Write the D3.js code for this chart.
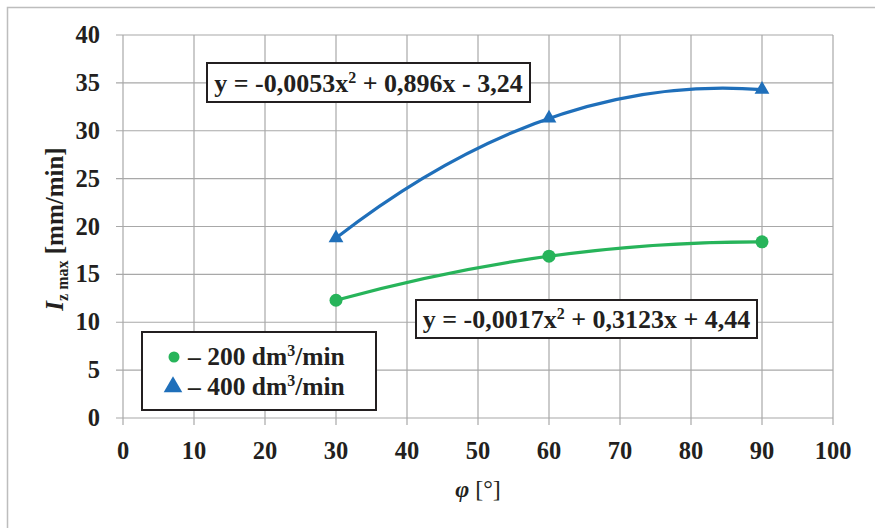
<!DOCTYPE html>
<html>
<head>
<meta charset="utf-8">
<script src="https://cdn.jsdelivr.net/npm/d3@7"></script>
<style>
  body { margin: 0; background: #fff; }
  svg text { font-family: 'Liberation Serif', serif; }
</style>
</head>
<body>
<div id="chart"></div>
<script>
// data
var angles = [30, 60, 90];
var flow200 = [12.3, 16.9, 18.4];
var flow400 = [18.8, 31.3, 34.3];
var eq200 = "y = -0,0017x|2| + 0,3123x + 4,44";
var eq400 = "y = -0,0053x|2| + 0,896x - 3,24";
var xTicks = [0, 10, 20, 30, 40, 50, 60, 70, 80, 90, 100];
var yTicks = [0, 5, 10, 15, 20, 25, 30, 35, 40];

var svgWidth = 875;
var svgHeight = 528;
var margin = { top: 35, right: 42, bottom: 110, left: 123 };
var width = svgWidth - margin.left - margin.right;
var height = svgHeight - margin.top - margin.bottom;

var blue = "#1f6fba";
var green = "#27b45a";
var ink = "#231f20";

var svg = d3.select("#chart")
  .append("svg")
  .attr("width", svgWidth)
  .attr("height", svgHeight)
  .attr("font-family", "'Liberation Serif', serif");

// outer frame
svg.append("rect")
  .attr("x", 7.5).attr("y", 7.5)
  .attr("width", svgWidth + 10).attr("height", svgHeight + 10)
  .attr("fill", "none")
  .attr("stroke", "#bdbdbd")
  .attr("stroke-width", 1.5);

var chartGroup = svg.append("g")
  .attr("transform", "translate(" + margin.left + "," + margin.top + ")");

var x = d3.scaleLinear().domain([0, 100]).range([0, width]);
var y = d3.scaleLinear().domain([0, 40]).range([height, 0]);

// grid lines
chartGroup.append("g")
  .selectAll("line")
  .data(xTicks)
  .enter()
  .append("line")
  .attr("x1", d => x(d)).attr("x2", d => x(d))
  .attr("y1", 0).attr("y2", height + 7)
  .attr("stroke", "#a8a8a8")
  .attr("stroke-width", 1.2);

chartGroup.append("g")
  .selectAll("line")
  .data(yTicks)
  .enter()
  .append("line")
  .attr("x1", -7).attr("x2", width)
  .attr("y1", d => y(d)).attr("y2", d => y(d))
  .attr("stroke", "#a8a8a8")
  .attr("stroke-width", 1.2);

// tick labels
chartGroup.append("g")
  .selectAll("text")
  .data(xTicks)
  .enter()
  .append("text")
  .attr("x", d => x(d))
  .attr("y", height + 41)
  .attr("text-anchor", "middle")
  .attr("font-size", 24.5)
  .attr("font-weight", "bold")
  .attr("fill", ink)
  .text(d => d);

chartGroup.append("g")
  .selectAll("text")
  .data(yTicks)
  .enter()
  .append("text")
  .attr("x", -23)
  .attr("y", d => y(d) + 8)
  .attr("text-anchor", "end")
  .attr("font-size", 24.5)
  .attr("font-weight", "bold")
  .attr("fill", ink)
  .text(d => d);

// second order polynomial trendline: exact fit through the three points,
// drawn as a quadratic Bezier (control point from the fitted parabola)
function trendPath(vals) {
  var x0 = angles[0], x1 = angles[1], x2 = angles[2];
  var cy = 2 * vals[1] - (vals[0] + vals[2]) / 2;
  var p = d3.path();
  p.moveTo(x(x0), y(vals[0]));
  p.quadraticCurveTo(x((x0 + x2) / 2), y(cy), x(x2), y(vals[2]));
  return p.toString();
}

chartGroup.append("path")
  .attr("d", trendPath(flow200))
  .attr("fill", "none")
  .attr("stroke", green)
  .attr("stroke-width", 3.2);

chartGroup.append("path")
  .attr("d", trendPath(flow400))
  .attr("fill", "none")
  .attr("stroke", blue)
  .attr("stroke-width", 3.2);

// markers
chartGroup.append("g")
  .selectAll("circle")
  .data(angles)
  .enter()
  .append("circle")
  .attr("cx", d => x(d))
  .attr("cy", (d, i) => y(flow200[i]))
  .attr("r", 6.5)
  .attr("fill", green);

var tri = d3.symbol().type(d3.symbolTriangle).size(95);
chartGroup.append("g")
  .selectAll("path")
  .data(angles)
  .enter()
  .append("path")
  .attr("d", tri)
  .attr("transform", (d, i) => "translate(" + x(d) + "," + y(flow400[i]) + ")")
  .attr("fill", blue);

// equation boxes
function eqBox(bx, by, bw, bh, label) {
  var g = svg.append("g");
  g.append("rect")
    .attr("x", bx).attr("y", by)
    .attr("width", bw).attr("height", bh)
    .attr("fill", "#fff")
    .attr("stroke", ink)
    .attr("stroke-width", 2);
  var t = g.append("text")
    .attr("x", bx + bw / 2)
    .attr("y", by + bh / 2 + 9)
    .attr("text-anchor", "middle")
    .attr("font-size", 26)
    .attr("font-weight", "bold")
    .attr("fill", ink);
  var parts = label.split("|");
  t.append("tspan").text(parts[0]);
  t.append("tspan").text(parts[1]).attr("font-size", 16).attr("dy", -9);
  t.append("tspan").text(parts[2]).attr("dy", 9);
}

eqBox(207, 63, 323, 39, eq400);
eqBox(416, 300, 341, 38, eq200);

// legend
var legend = svg.append("g");
legend.append("rect")
  .attr("x", 142).attr("y", 332)
  .attr("width", 234).attr("height", 78)
  .attr("fill", "#fff")
  .attr("stroke", ink)
  .attr("stroke-width", 2);

legend.append("circle")
  .attr("cx", 174).attr("cy", 357)
  .attr("r", 5.5)
  .attr("fill", green);

legend.append("path")
  .attr("d", d3.symbol().type(d3.symbolTriangle).size(150))
  .attr("transform", "translate(173,387)")
  .attr("fill", blue);

var legendLabels = [["\u2013 200 dm", "/min", 365], ["\u2013 400 dm", "/min", 395]];
legendLabels.forEach(function(l) {
  var t = legend.append("text")
    .attr("x", 188)
    .attr("y", l[2])
    .attr("font-size", 25.5)
    .attr("font-weight", "bold")
    .attr("fill", ink);
  t.append("tspan").text(l[0]);
  t.append("tspan").text("3").attr("font-size", 16).attr("dy", -9);
  t.append("tspan").text(l[1]).attr("dy", 9);
});

// axis titles
var yTitle = svg.append("text")
  .attr("transform", "translate(63,229) rotate(-90)")
  .attr("text-anchor", "middle")
  .attr("font-size", 25)
  .attr("font-weight", "bold")
  .attr("fill", ink);
yTitle.append("tspan").text("I").attr("font-style", "italic");
yTitle.append("tspan").text("z max").attr("font-size", 16).attr("dy", 5);
yTitle.append("tspan").text(" [mm/min]").attr("dy", -5);

var xTitle = svg.append("text")
  .attr("x", 478)
  .attr("y", 497)
  .attr("text-anchor", "middle")
  .attr("font-size", 24)
  .attr("fill", ink);
xTitle.append("tspan").text("\u03c6").attr("font-style", "italic").attr("font-weight", "bold");
xTitle.append("tspan").text(" [\u00b0]");
</script>
</body>
</html>
